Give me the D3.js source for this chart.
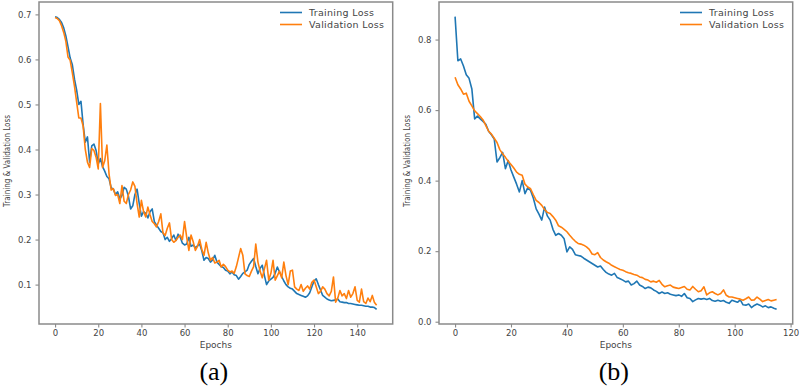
<!DOCTYPE html>
<html>
<head>
<meta charset="utf-8">
<script src="https://cdn.jsdelivr.net/npm/d3@7"></script>
<style>
  html, body { margin: 0; padding: 0; background: #fff; }
  svg { display: block; }
  text { font-family: "DejaVu Sans", sans-serif; }
</style>
</head>
<body>
<svg id="chart" width="800" height="390"></svg>
<script>
// ---- Panel (a) data: epochs 0..149 ----
const trainA = [
  0.695, 0.693, 0.689, 0.682, 0.670, 0.652, 0.628, 0.603, 0.588, 0.556,
  0.532, 0.500, 0.507, 0.455, 0.416, 0.428, 0.372, 0.408, 0.412, 0.398,
  0.368, 0.380, 0.362, 0.352, 0.340, 0.335, 0.315, 0.312, 0.300, 0.306,
  0.290, 0.298, 0.316, 0.312, 0.296, 0.268, 0.275, 0.300, 0.312, 0.280,
  0.252, 0.262, 0.258, 0.248, 0.262, 0.268, 0.240, 0.232, 0.225, 0.218,
  0.215, 0.200, 0.205, 0.196, 0.202, 0.210, 0.198, 0.212, 0.205, 0.192,
  0.188, 0.190, 0.205, 0.185, 0.188, 0.182, 0.186, 0.190, 0.175, 0.154,
  0.160, 0.158, 0.150, 0.155, 0.165, 0.150, 0.145, 0.140, 0.138, 0.132,
  0.130, 0.124, 0.128, 0.122, 0.120, 0.112, 0.118, 0.125, 0.128, 0.132,
  0.145, 0.152, 0.158, 0.140, 0.124, 0.136, 0.143, 0.120, 0.100, 0.108,
  0.112, 0.116, 0.125, 0.139, 0.128, 0.118, 0.108, 0.100, 0.095, 0.092,
  0.090, 0.085, 0.080, 0.078, 0.076, 0.074, 0.072, 0.075, 0.082, 0.095,
  0.108, 0.113, 0.100, 0.088, 0.076, 0.072, 0.068, 0.066, 0.064, 0.065,
  0.066, 0.068, 0.062, 0.061, 0.060, 0.060, 0.058, 0.058, 0.057, 0.056,
  0.055, 0.054, 0.054, 0.053, 0.052, 0.052, 0.050, 0.050, 0.049, 0.045
];
const valA = [
  0.693, 0.691, 0.686, 0.675, 0.660, 0.640, 0.605, 0.598, 0.570, 0.540,
  0.505, 0.470, 0.470, 0.452, 0.400, 0.372, 0.360, 0.402, 0.398, 0.383,
  0.357, 0.502, 0.360, 0.375, 0.410, 0.346, 0.310, 0.313, 0.298, 0.300,
  0.280, 0.320, 0.285, 0.280, 0.300, 0.310, 0.328, 0.318, 0.280, 0.250,
  0.287, 0.262, 0.250, 0.272, 0.255, 0.240, 0.235, 0.228, 0.240, 0.257,
  0.215, 0.209, 0.225, 0.237, 0.200, 0.194, 0.198, 0.205, 0.210, 0.200,
  0.240, 0.205, 0.176, 0.210, 0.195, 0.176, 0.185, 0.200, 0.178, 0.165,
  0.194, 0.170, 0.154, 0.160, 0.148, 0.150, 0.154, 0.139, 0.145, 0.140,
  0.132, 0.128, 0.130, 0.125, 0.140, 0.160, 0.180, 0.165, 0.124, 0.120,
  0.118, 0.130, 0.140, 0.190, 0.150, 0.130, 0.115, 0.135, 0.154, 0.110,
  0.125, 0.154, 0.110, 0.120, 0.130, 0.115, 0.150, 0.120, 0.100, 0.130,
  0.132, 0.095, 0.090, 0.087, 0.100, 0.085, 0.092, 0.097, 0.090, 0.105,
  0.110, 0.095, 0.080, 0.085, 0.095, 0.090, 0.080, 0.075, 0.085, 0.117,
  0.061, 0.070, 0.087, 0.075, 0.080, 0.069, 0.087, 0.072, 0.080, 0.095,
  0.065, 0.061, 0.090, 0.062, 0.058, 0.070, 0.062, 0.076, 0.060, 0.054
];

// ---- Panel (b) data: epochs 0..115 ----
const trainB = [
  0.865, 0.740, 0.745, 0.725, 0.700, 0.690, 0.660, 0.575, 0.583, 0.575,
  0.568, 0.560, 0.540, 0.530, 0.518, 0.453, 0.465, 0.480, 0.434, 0.457,
  0.430, 0.410, 0.390, 0.368, 0.400, 0.363, 0.380, 0.372, 0.350, 0.320,
  0.305, 0.288, 0.325, 0.300, 0.288, 0.262, 0.245, 0.250, 0.245, 0.235,
  0.198, 0.212, 0.205, 0.190, 0.188, 0.186, 0.180, 0.175, 0.170, 0.165,
  0.160, 0.155, 0.158, 0.148, 0.140, 0.135, 0.132, 0.137, 0.125, 0.122,
  0.118, 0.113, 0.115, 0.104, 0.108, 0.115, 0.104, 0.100, 0.094, 0.098,
  0.096, 0.090, 0.086, 0.080, 0.084, 0.080, 0.082, 0.078, 0.076, 0.074,
  0.076, 0.072, 0.080, 0.068, 0.066, 0.057, 0.062, 0.066, 0.064, 0.066,
  0.063, 0.066, 0.060, 0.058, 0.061, 0.058, 0.060, 0.055, 0.052, 0.061,
  0.058, 0.055, 0.062, 0.048, 0.047, 0.050, 0.040, 0.046, 0.050, 0.047,
  0.042, 0.045, 0.040, 0.042, 0.038, 0.035
];
const valB = [
  0.693, 0.672, 0.660, 0.645, 0.648, 0.625, 0.612, 0.598, 0.590, 0.582,
  0.572, 0.556, 0.540, 0.532, 0.520, 0.508, 0.488, 0.476, 0.466, 0.455,
  0.446, 0.436, 0.424, 0.418, 0.415, 0.390, 0.382, 0.377, 0.360, 0.344,
  0.338, 0.330, 0.318, 0.310, 0.307, 0.298, 0.288, 0.272, 0.268, 0.262,
  0.255, 0.245, 0.236, 0.228, 0.222, 0.220, 0.217, 0.212, 0.205, 0.192,
  0.190, 0.196, 0.182, 0.175, 0.170, 0.166, 0.160, 0.156, 0.152, 0.148,
  0.146, 0.142, 0.139, 0.137, 0.134, 0.132, 0.127, 0.125, 0.120, 0.118,
  0.113, 0.115, 0.112, 0.117, 0.106, 0.099, 0.102, 0.104, 0.098, 0.096,
  0.094, 0.097, 0.100, 0.092, 0.090, 0.100, 0.092, 0.085, 0.088, 0.099,
  0.076, 0.082, 0.085, 0.080, 0.076, 0.080, 0.090, 0.075, 0.070, 0.070,
  0.068, 0.066, 0.064, 0.061, 0.065, 0.070, 0.061, 0.062, 0.070, 0.064,
  0.057, 0.060, 0.063, 0.059, 0.061, 0.063
];

const xTicksA = [0, 20, 40, 60, 80, 100, 120, 140];
const yTicksA = [0.1, 0.2, 0.3, 0.4, 0.5, 0.6, 0.7];
const xTicksB = [0, 20, 40, 60, 80, 100, 120];
const yTicksB = [0.0, 0.2, 0.4, 0.6, 0.8];

const seriesNames = ["Training Loss", "Validation Loss"];
const panelLabels = ["(a)", "(b)"];
const xLabel = "Epochs";
const yLabel = "Training & Validation Loss";

const COLORS = ["#1f77b4", "#ff7f0e"];
const FRAME = "#8a8a8a";
const TEXTC = "#444";

const svg = d3.select("#chart");

function drawPanel(opts) {
  const { left, right, top, bottom, train, val, xTicks, yTicks, label, yLabelX, yFmt, legendX } = opts;
  const n = train.length;
  const xMax = n - 1;
  const xPad = xMax * 0.05;
  const all = train.concat(val);
  const [yMin, yMax] = d3.extent(all);
  const yPad = (yMax - yMin) * 0.05;

  const x = d3.scaleLinear().domain([-xPad, xMax + xPad]).range([left, right]);
  const y = d3.scaleLinear().domain([yMin - yPad, yMax + yPad]).range([bottom, top]);

  const g = svg.append("g");

  // series
  const line = d3.line().x((d, i) => x(i)).y(d => y(d));
  [train, val].forEach((s, k) => {
    g.append("path")
      .datum(s)
      .attr("fill", "none")
      .attr("stroke", COLORS[k])
      .attr("stroke-width", 1.6)
      .attr("stroke-linejoin", "round")
      .attr("d", line);
  });

  // axes
  const xAxis = d3.axisBottom(x).tickValues(xTicks).tickFormat(d3.format("d")).tickSize(3.5).tickPadding(2.5);
  const yAxis = d3.axisLeft(y).tickValues(yTicks).tickFormat(d3.format(yFmt)).tickSize(3.5).tickPadding(4);

  const gx = g.append("g").attr("transform", `translate(0,${bottom})`).call(xAxis);
  const gy = g.append("g").attr("transform", `translate(${left},0)`).call(yAxis);
  [gx, gy].forEach(a => {
    a.select(".domain").remove();
    a.selectAll(".tick line").attr("stroke", FRAME).attr("stroke-width", 1.1);
    a.selectAll(".tick text").attr("fill", TEXTC).style("font-size", "8.5px").style("font-family", "DejaVu Sans, sans-serif");
  });

  // frame
  g.append("rect")
    .attr("x", left).attr("y", top)
    .attr("width", right - left).attr("height", bottom - top)
    .attr("fill", "none").attr("stroke", FRAME).attr("stroke-width", 1.5);

  // axis labels
  g.append("text")
    .attr("x", (left + right) / 2).attr("y", 347.5)
    .attr("text-anchor", "middle")
    .attr("fill", TEXTC)
    .style("font-size", "9px")
    .text(xLabel);

  g.append("text")
    .attr("transform", `translate(${yLabelX},161) scale(1,0.8) rotate(-90)`)
    .attr("text-anchor", "middle")
    .attr("fill", TEXTC)
    .style("font-size", "9px")
    .text(yLabel);

  // legend
  seriesNames.forEach((name, k) => {
    const ly = 12.5 + k * 12;
    g.append("line")
      .attr("x1", legendX).attr("x2", legendX + 22)
      .attr("y1", ly).attr("y2", ly)
      .attr("stroke", COLORS[k]).attr("stroke-width", 1.6);
    g.append("text")
      .attr("x", legendX + 29).attr("y", ly + 3.5)
      .attr("fill", TEXTC)
      .style("font-size", "9.5px")
      .style("letter-spacing", "0.3px")
      .text(name);
  });

  // panel label
  svg.append("text")
    .attr("x", (left + right) / 2 - 2).attr("y", 380)
    .attr("text-anchor", "middle")
    .attr("fill", "#000")
    .style("font-family", "Liberation Serif, Times New Roman, serif")
    .style("font-size", "26px")
    .text(label);
}

drawPanel({ left: 39, right: 392.7, top: 2, bottom: 324, train: trainA, val: valA,
  xTicks: xTicksA, yTicks: yTicksA, label: panelLabels[0], yLabelX: 9.5, yFmt: ".1f", legendX: 280 });
drawPanel({ left: 439, right: 792.7, top: 2, bottom: 324, train: trainB, val: valB,
  xTicks: xTicksB, yTicks: yTicksB, label: panelLabels[1], yLabelX: 409.5, yFmt: ".1f", legendX: 680 });
</script>
</body>
</html>
